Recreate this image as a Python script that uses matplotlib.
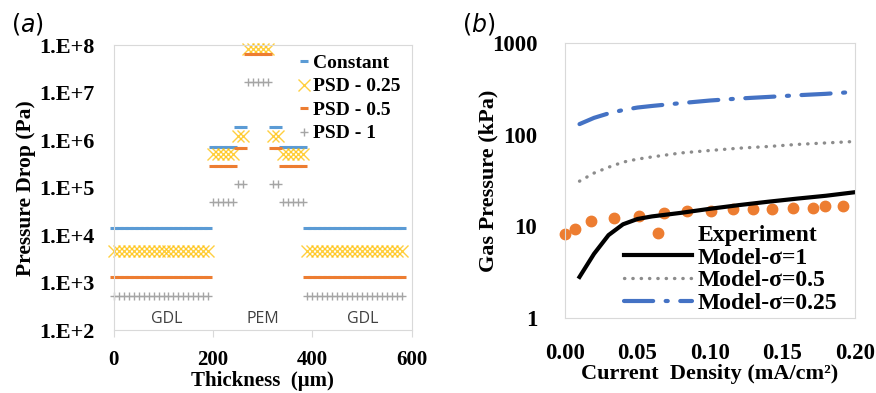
import numpy as np
import matplotlib
matplotlib.use("Agg")
import matplotlib.pyplot as plt
from matplotlib.ticker import FixedLocator, NullLocator

# ---- panel (a): pressure drop through the layers ----
# sampling points (um) for each layer: GDL | PEM sub-layers | GDL
layer_x = [
    np.arange(0, 200, 10),     # GDL
    np.arange(200, 250, 10),   # PEM outer
    np.array([250, 260]),      # PEM inner
    np.arange(270, 320, 10),   # PEM centre
    np.array([320, 330]),      # PEM inner
    np.arange(340, 390, 10),   # PEM outer
    np.arange(390, 590, 10),   # GDL
]
# pressure drop per layer (Pa); the constant case is off scale in the centre
dp_constant = [1.4e4, 7.1e5, 1.9e6, np.nan, 1.9e6, 7.1e5, 1.4e4]
dp_psd_025 = [4.6e3, 5.0e5, 1.2e6, 8.2e7, 1.2e6, 5.0e5, 4.6e3]
dp_psd_05 = [1.3e3, 2.9e5, 6.8e5, 6.5e7, 6.8e5, 2.9e5, 1.3e3]
dp_psd_1 = [5.2e2, 4.9e4, 1.2e5, 1.7e7, 1.2e5, 4.9e4, 5.2e2]

region_labels = ["GDL", "PEM", "GDL"]
region_pos = [107, 300, 501]

# ---- panel (b): gas pressure vs current density ----
exp_j = [0.0, 0.007, 0.018, 0.034, 0.051, 0.068, 0.084, 0.101, 0.116,
         0.130, 0.143, 0.157, 0.171, 0.179, 0.192]
exp_p = [8.3, 9.3, 11.5, 12.3, 13.0, 14.0, 14.8, 14.8, 15.5,
         15.5, 15.5, 16.0, 16.0, 16.7, 16.7]
model_j = [0.01, 0.02, 0.03, 0.04, 0.05, 0.06, 0.08, 0.10, 0.12,
           0.14, 0.16, 0.18, 0.20]
model_s1 = [2.8, 5.0, 8.0, 10.5, 12.0, 12.8, 14.0, 15.5, 17.0,
            18.5, 20.0, 21.5, 23.5]
model_s05 = [31, 38, 44, 50, 54, 57, 63, 67, 71, 74, 78, 81, 84]
model_s025 = [130, 152, 170, 185, 197, 205, 220, 235, 247,
              257, 268, 278, 292]


def expand(values):
    xs = np.concatenate(layer_x)
    ys = np.concatenate([np.full(len(x), v) for x, v in zip(layer_x, values)])
    return xs, ys


serif = "Liberation Serif"
plt.rcParams["font.family"] = serif
plt.rcParams["mathtext.fontset"] = "dejavusans"
frame_col = "#D9D9D9"

fig = plt.figure(figsize=(8.76, 3.93), dpi=100)
ax1 = fig.add_axes([0.130, 0.160, 0.340, 0.725])
ax2 = fig.add_axes([0.645, 0.191, 0.331, 0.700])

# panel (a)
styles = [
    (dp_constant, "Constant", dict(marker="_", ms=6, mew=2.2, color="#5B9BD5")),
    (dp_psd_025, "PSD - 0.25", dict(marker="x", ms=8, mew=1.0, color="#FFC000", alpha=0.75)),
    (dp_psd_05, "PSD - 0.5", dict(marker="_", ms=6, mew=2.2, color="#ED7D31")),
    (dp_psd_1, "PSD - 1", dict(marker="+", ms=6, mew=1.0, color="#A5A5A5")),
]
for vals, name, st in styles:
    xs, ys = expand(vals)
    ax1.plot(xs, ys, linestyle="none", label=name, clip_on=False, **st)

ax1.set_yscale("log")
ax1.set_ylim(1e2, 1e8)
ax1.set_xlim(0, 600)
ax1.yaxis.set_major_locator(FixedLocator([10.0 ** k for k in range(2, 9)]))
ax1.yaxis.set_minor_locator(NullLocator())
ax1.set_yticklabels(["1.E+%d" % k for k in range(2, 9)])
ax1.set_xticks([0, 200, 400, 600])
ax1.tick_params(axis="y", length=0, pad=14, labelsize=16)
ax1.tick_params(axis="x", length=5, color=frame_col, pad=9, labelsize=15)
for lab in ax1.get_xticklabels() + ax1.get_yticklabels():
    lab.set_fontweight("bold")
for sp in ax1.spines.values():
    sp.set_color(frame_col)
ax1.set_xlabel("Thickness  (\u03bcm)", fontsize=15, fontweight="bold", labelpad=1)
ax1.set_ylabel("Pressure Drop (Pa)", fontsize=15.5, fontweight="bold", labelpad=2)
for txt, xp in zip(region_labels, region_pos):
    ax1.text(xp, 1.7e2, txt, ha="center", va="center", fontsize=11.5,
             family="Open Sans", color="#404040")
leg1 = ax1.legend(loc="upper right", frameon=False, handlelength=0.5,
                  handletextpad=0.25, labelspacing=0.3, borderaxespad=0.0,
                  bbox_to_anchor=(0.99, 0.995),
                  prop=dict(family=serif, weight="bold", size=14))
fig.text(0.013, 0.94, "($\\mathit{a}$)", fontsize=17, family="DejaVu Sans",
         va="center")

# panel (b)
ax2.plot(exp_j, exp_p, linestyle="none", marker="o", ms=7.5, color="#ED7D31",
         label="Experiment", clip_on=False)
ax2.plot(model_j, model_s1, color="black", lw=3, label="Model-\u03c3=1")
ax2.plot(model_j, model_s05, color="#8C8C8C", lw=2.4, dash_capstyle="round",
         linestyle=(0, (0.1, 2.4)), label="Model-\u03c3=0.5")
ax2.plot(model_j, model_s025, color="#4472C4", lw=3, dash_capstyle="round",
         linestyle=(0, (7, 3, 0.5, 3)), label="Model-\u03c3=0.25")

ax2.set_yscale("log")
ax2.set_ylim(1, 1000)
ax2.set_xlim(0, 0.20)
ax2.yaxis.set_major_locator(FixedLocator([1, 10, 100, 1000]))
ax2.yaxis.set_minor_locator(NullLocator())
ax2.set_yticklabels(["1", "10", "100", "1000"])
ax2.set_xticks([0.0, 0.05, 0.10, 0.15, 0.20])
ax2.set_xticklabels(["0.00", "0.05", "0.10", "0.15", "0.20"])
ax2.tick_params(axis="both", length=0, labelsize=16.5)
ax2.tick_params(axis="y", pad=20)
ax2.tick_params(axis="x", pad=18)
for lab in ax2.get_xticklabels() + ax2.get_yticklabels():
    lab.set_fontweight("bold")
for sp in ax2.spines.values():
    sp.set_color(frame_col)
ax2.set_xlabel("Current  Density (mA/cm\u00b2)", fontsize=16,
               fontweight="bold", labelpad=0)
ax2.set_ylabel("Gas Pressure (kPa)", fontsize=16, fontweight="bold", labelpad=-5)
leg2 = ax2.legend(loc="lower right", frameon=False, handlelength=2.9,
                  handletextpad=0.2, labelspacing=0.05, borderaxespad=0.0,
                  bbox_to_anchor=(0.97, -0.02),
                  prop=dict(family=serif, weight="bold", size=17))
fig.text(0.527, 0.94, "($\\mathit{b}$)", fontsize=17, family="DejaVu Sans",
         va="center")

fig.savefig("out.png", dpi=100)
